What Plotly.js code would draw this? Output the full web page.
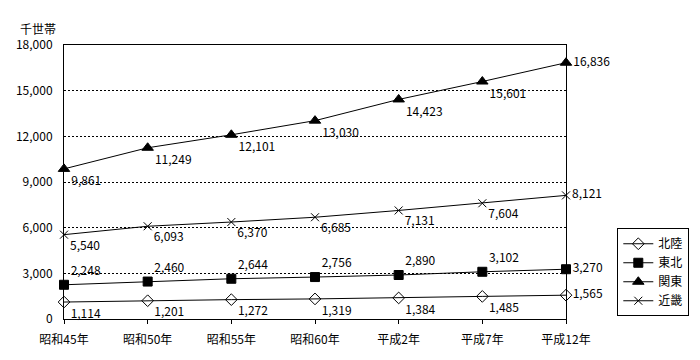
<!DOCTYPE html>
<html><head><meta charset="utf-8">
<script src="https://cdn.plot.ly/plotly-3.0.1.min.js"></script>
<style>body{margin:0;background:#fff}#c{width:700px;height:360px}</style>
</head><body><div id="c"></div>
<script>
var categories = ['昭和45年','昭和50年','昭和55年','昭和60年','平成2年','平成7年','平成12年'];
var hokuriku = [1114,1201,1272,1319,1384,1485,1565];
var tohoku = [2248,2460,2644,2756,2890,3102,3270];
var kanto = [9861,11249,12101,13030,14423,15601,16836];
var kinki = [5540,6093,6370,6685,7131,7604,8121];
var yTicks = [0,3000,6000,9000,12000,15000,18000];

function fmt(v){return v.toLocaleString('en-US');}
function pos(n, p, last){var a=[];for(var i=0;i<n;i++)a.push(i===n-1?last:p);return a;}
var F = '"Noto Sans CJK JP", "Liberation Sans", sans-serif';
function tr(name, y, sym, size, tp){
  return {x:categories, y:y, name:name, type:'scatter', mode:'lines+markers+text',
    line:{color:'#000', width:1},
    marker:{symbol:sym, size:size, color:'#000', line:{color:'#000', width:1}},
    text:y.map(fmt), textposition:tp, textfont:{family:F,size:12,color:'#000'},
    cliponaxis:false};
}
var data = [
  tr('北陸', hokuriku, 'diamond-open', 9, pos(7,'bottom right','middle right')),
  tr('東北', tohoku, 'square', 9, pos(7,'top right','middle right')),
  tr('関東', kanto, 'triangle-up', 10, pos(7,'bottom right','middle right')),
  tr('近畿', kinki, 'x-thin-open', 8, pos(7,'bottom right','middle right'))
];
var layout = {
  width:700, height:360, margin:{l:64, r:133, t:45, b:41},
  paper_bgcolor:'#fff', plot_bgcolor:'#fff',
  font:{family:F, size:12, color:'#000'},
  showlegend:true,
  legend:{x:1.1, xanchor:'left', y:0.01, yanchor:'bottom', bordercolor:'#000', borderwidth:1,
    bgcolor:'#fff', font:{family:F,size:12,color:'#000'}, tracegroupgap:0},
  xaxis:{type:'category', range:[0,6], showgrid:false, showline:true, mirror:true,
    linecolor:'#000', linewidth:1, ticks:'outside', ticklen:4, tickcolor:'#000',
    ticklabelstandoff:6,
    tickfont:{family:F,size:12,color:'#000'}, zeroline:false},
  yaxis:{range:[0,18000], tickvals:yTicks, ticktext:yTicks.map(fmt), showgrid:true,
    gridcolor:'#000', gridwidth:1, griddash:'2px,2px', showline:true, mirror:true,
    linecolor:'#000', linewidth:1, ticks:'', zeroline:false, ticklabelstandoff:8,
    tickfont:{family:F,size:12,color:'#000'}},
  annotations:[{text:'千世帯', xref:'paper', yref:'paper', x:-0.052, y:1.062,
    xanchor:'center', yanchor:'middle', showarrow:false, font:{family:F,size:12,color:'#000'}}]
};
Plotly.newPlot('c', data, layout, {staticPlot:true});
</script></body></html>
